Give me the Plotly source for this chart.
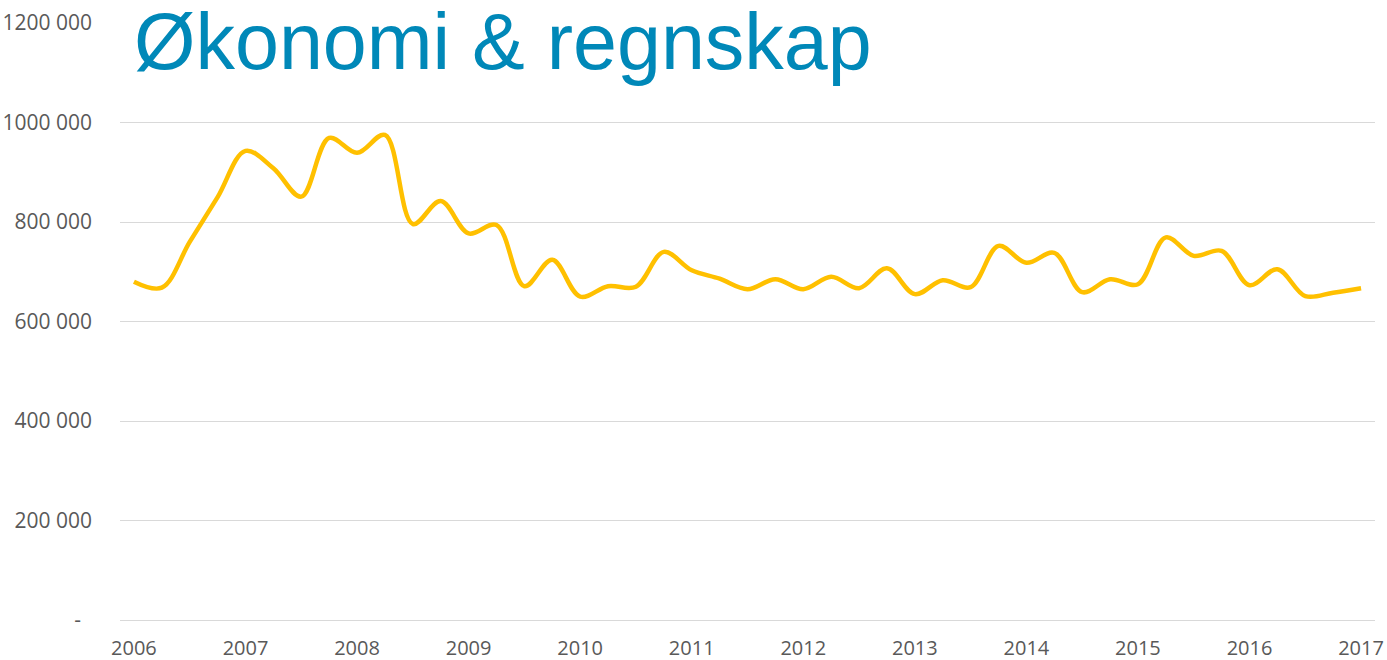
import plotly.graph_objects as go

# Quarterly values, 2006 Q1 .. 2017 Q1
values = [680000, 668000, 760000, 850000, 943000, 908000, 851000, 969000, 939000, 975000,
          796000, 842000, 777000, 794000, 671000, 724000, 650000, 671000, 670000, 740000,
          703000, 686000, 665000, 685000, 665000, 690000, 667000, 707000, 655000, 683000,
          669000, 752000, 718000, 738000, 659000, 685000, 675000, 769000, 732000, 742000,
          673000, 705000, 651000, 658000, 667000]
x_idx = list(range(len(values)))
year_labels = ["2006", "2007", "2008", "2009", "2010", "2011", "2012", "2013", "2014", "2015", "2016", "2017"]
year_pos = [i * 4 for i in range(len(year_labels))]
y_ticks = [0, 200000, 400000, 600000, 800000, 1000000, 1200000]
y_labels = ["-\u00a0\u00a0", "200 000", "400 000", "600 000", "800 000", "1000 000", "1200 000"]
title_text = "Økonomi & regnskap"

fig = go.Figure()
fig.add_trace(go.Scatter(
    x=x_idx, y=values, mode="lines",
    line=dict(color="#FFC000", width=4.5, shape="spline", smoothing=1.0),
    hoverinfo="skip", showlegend=False,
))

fig.update_layout(
    width=1387, height=660,
    margin=dict(l=120, r=12, t=23, b=40, autoexpand=False),
    paper_bgcolor="white", plot_bgcolor="white",
    xaxis=dict(range=[-0.5, 44.5], tickmode="array", tickvals=year_pos, ticktext=year_labels,
               showgrid=False, zeroline=False, showline=False, ticks="", automargin=False,
               tickfont=dict(family="Open Sans", size=20, color="#595959"), ticklabelstandoff=14),
    yaxis=dict(range=[0, 1200000], tickmode="array", tickvals=y_ticks, ticktext=y_labels,
               showgrid=True, gridcolor="#D9D9D9", gridwidth=1.3,
               zeroline=True, zerolinecolor="#D9D9D9", zerolinewidth=1.3,
               showline=False, ticks="", automargin=False,
               tickfont=dict(family="Open Sans", size=21, color="#595959"), ticklabelstandoff=27),
    annotations=[dict(
        text=title_text, xref="paper", yref="paper",
        x=(133 - 120) / 1255, y=(620 - 42) / 597, xanchor="left", yanchor="middle",
        borderpad=0, showarrow=False,
        font=dict(family="Liberation Sans", size=79, color="#0088B8"),
    )],
)

fig.write_html("out.html", config={"displayModeBar": False},
               post_script="document.body.style.margin='0';")
